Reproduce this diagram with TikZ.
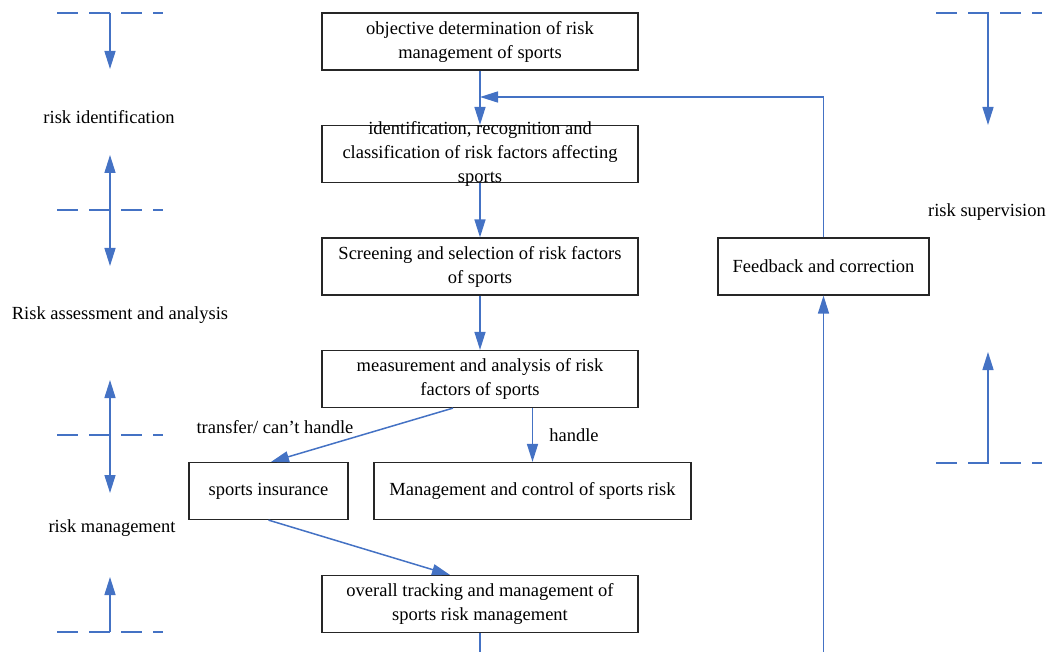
\documentclass[tikz,border=0pt]{standalone}
\usepackage{fontspec}
\setmainfont{Liberation Serif}
\usetikzlibrary{arrows.meta}
\definecolor{linkblue}{RGB}{68,114,196}

\begin{document}
\begin{tikzpicture}[x=1pt, y=-1pt,
  every node/.style={font=\fontsize{18.5}{24}\selectfont},
  stagebox/.style={draw=black!85, line width=1.2pt, minimum height=57pt, inner sep=0pt, align=center},
  flow/.style={draw=linkblue, line width=1.5pt, -{Triangle[length=18pt, width=11pt]}},
  link/.style={draw=linkblue, line width=1.5pt},
  guide/.style={draw=linkblue, line width=1.5pt, dash pattern=on 21pt off 11pt}]
\useasboundingbox (0,0) rectangle (1047,652);

% main chain
\node[stagebox, minimum width=316pt] (obj) at (480,41.5) {objective determination of risk\\management of sports};
\node[stagebox, minimum width=316pt, label={[align=center]center:identification, recognition and\\classification of risk factors affecting\\sports}] (ident) at (480,154) {};
\node[stagebox, minimum width=316pt] (screen) at (480,266.5) {Screening and selection of risk factors\\of sports};
\node[stagebox, minimum width=316pt] (meas) at (480,379) {measurement and analysis of risk\\factors of sports};
\node[stagebox, minimum width=159pt] (insur) at (268.5,491) {sports insurance};
\node[stagebox, minimum width=317pt] (ctrl) at (532.5,491) {Management and control of sports risk};
\node[stagebox, minimum width=316pt] (track) at (480,604) {overall tracking and management of\\sports risk management};
\node[stagebox, minimum width=211pt] (feed) at (823.5,266.5) {Feedback and correction};

\coordinate (merge) at (480,97);
\coordinate (outA) at (480,652);
\coordinate (outB) at (823.5,652);

\draw[flow] (obj) -- (ident);
\draw[flow] (ident) -- (screen);
\draw[flow] (screen) -- (meas);
\draw[flow] ([xshift=-27pt]meas.south) -- ([xshift=2.5pt]insur.north);
\draw[flow] (meas.south -| ctrl.north) -- (ctrl.north);
\draw[flow] (insur.south) -- ([xshift=-30pt]track.north);
\draw[link] (track) -- (outA);
\draw[flow] (outB) -- (feed);
\draw[flow] (feed) |- (merge);

\node (lbltransfer) at (275,427) {transfer/ can’t handle};
\node (lblhandle) at (574,435) {handle};

% stage marks, left
\draw[guide] (57,13) -- (163,13);
\draw[flow] (110,13) -- (110,69);
\node (identify) at (109,117) {risk identification};
\draw[guide] (57,210) -- (163,210);
\draw[flow] (110,210) -- (110,155);
\draw[flow] (110,210) -- (110,266);
\node (assess) at (120,315) {Risk assessment and analysis};
\draw[guide] (57,435) -- (163,435);
\draw[flow] (110,435) -- (110,380);
\draw[flow] (110,435) -- (110,493);
\node (manage) at (112,528) {risk management};
\draw[guide] (57,632) -- (163,632);
\draw[flow] (110,632) -- (110,577);

% stage marks, right
\draw[guide] (936,13) -- (1042,13);
\draw[flow] (988,13) -- (988,125);
\node (supervise) at (987,212) {risk supervision};
\draw[guide] (936,463) -- (1042,463);
\draw[flow] (988,463) -- (988,352);
\end{tikzpicture}
\end{document}
